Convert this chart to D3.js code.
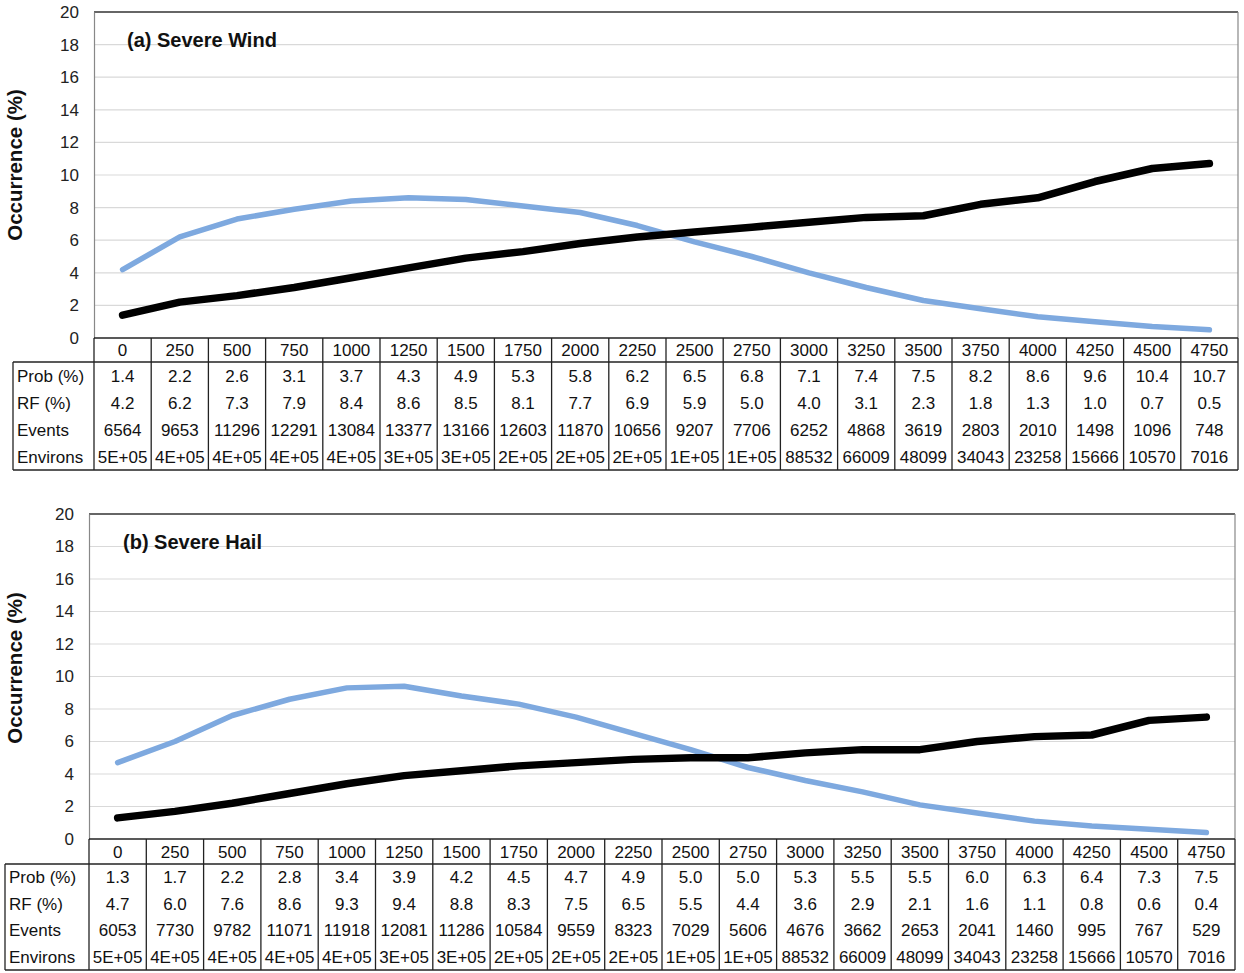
<!DOCTYPE html>
<html>
<head>
<meta charset="utf-8">
<script src="https://cdn.jsdelivr.net/npm/d3@7"></script>
<style>
  html, body { margin: 0; padding: 0; background: #fff; }
  svg { display: block; font-family: Arial, "Liberation Sans", sans-serif; }
</style>
</head>
<body>
<svg id="chart" width="1244" height="973"></svg>
<script>
// ---- Data ----
const categories = ["0","250","500","750","1000","1250","1500","1750","2000","2250","2500","2750","3000","3250","3500","3750","4000","4250","4500","4750"];
const rowLabels = ["Prob (%)", "RF (%)", "Events", "Environs"];
const yTicks = [0,2,4,6,8,10,12,14,16,18,20];

const windProb = [1.4,2.2,2.6,3.1,3.7,4.3,4.9,5.3,5.8,6.2,6.5,6.8,7.1,7.4,7.5,8.2,8.6,9.6,10.4,10.7];
const windRF = [4.2,6.2,7.3,7.9,8.4,8.6,8.5,8.1,7.7,6.9,5.9,5.0,4.0,3.1,2.3,1.8,1.3,1.0,0.7,0.5];
const windEvents = [6564,9653,11296,12291,13084,13377,13166,12603,11870,10656,9207,7706,6252,4868,3619,2803,2010,1498,1096,748];
const windEnvirons = ["5E+05","4E+05","4E+05","4E+05","4E+05","3E+05","3E+05","2E+05","2E+05","2E+05","1E+05","1E+05","88532","66009","48099","34043","23258","15666","10570","7016"];

const hailProb = [1.3,1.7,2.2,2.8,3.4,3.9,4.2,4.5,4.7,4.9,5.0,5.0,5.3,5.5,5.5,6.0,6.3,6.4,7.3,7.5];
const hailRF = [4.7,6.0,7.6,8.6,9.3,9.4,8.8,8.3,7.5,6.5,5.5,4.4,3.6,2.9,2.1,1.6,1.1,0.8,0.6,0.4];
const hailEvents = [6053,7730,9782,11071,11918,12081,11286,10584,9559,8323,7029,5606,4676,3662,2653,2041,1460,995,767,529];
const hailEnvirons = ["5E+05","4E+05","4E+05","4E+05","4E+05","3E+05","3E+05","2E+05","2E+05","2E+05","1E+05","1E+05","88532","66009","48099","34043","23258","15666","10570","7016"];

const panels = [
  { title: "(a) Severe Wind", prob: windProb, rf: windRF, events: windEvents, environs: windEnvirons,
    left: 94, right: 1238, top: 12, bottom: 338, tableLeft: 13, headerH: 24, rowH: 27,
    titleX: 127, titleY: 47, yTitleX: 22, yTitleY: 165 },
  { title: "(b) Severe Hail", prob: hailProb, rf: hailRF, events: hailEvents, environs: hailEnvirons,
    left: 89, right: 1235, top: 514, bottom: 839, tableLeft: 5, headerH: 25, rowH: 26.5,
    titleX: 123, titleY: 549, yTitleX: 22, yTitleY: 668 }
];

const svg = d3.select("#chart");
const tableStroke = "#222";
const fs = 17;

panels.forEach(p => {
  const g = svg.append("g");
  const x = d3.scaleBand().domain(categories).range([p.left, p.right]).padding(0);
  const y = d3.scaleLinear().domain([0, 20]).range([p.bottom, p.top]);
  const cx = d => x(d) + x.bandwidth() / 2;

  // gridlines
  g.append("g").selectAll("line").data(yTicks.filter(t => t > 0)).join("line")
    .attr("x1", p.left).attr("x2", p.right)
    .attr("y1", d => y(d)).attr("y2", d => y(d))
    .attr("stroke", t => t === 20 ? "#666" : "#d9d9d9")
    .attr("stroke-width", t => t === 20 ? 1.8 : 1.2);

  // y axis
  const yAxis = d3.axisLeft(y).tickValues(yTicks).tickSize(0).tickPadding(15);
  const ya = g.append("g").attr("transform", `translate(${p.left},0)`).call(yAxis);
  ya.select(".domain").attr("stroke", "#888").attr("stroke-width", 1.2);
  ya.selectAll("text").attr("font-size", fs).attr("fill", "#222")
    .attr("font-family", "Arial, 'Liberation Sans', sans-serif");

  // right border
  g.append("line").attr("x1", p.right).attr("x2", p.right).attr("y1", p.top).attr("y2", p.bottom)
    .attr("stroke", "#888").attr("stroke-width", 1.2);

  // y title
  g.append("text")
    .attr("transform", `translate(${p.yTitleX},${p.yTitleY}) rotate(-90)`)
    .attr("text-anchor", "middle").attr("font-weight", "bold").attr("font-size", 20.5)
    .attr("fill", "#111").text("Occurrence (%)");

  // panel title
  g.append("text").attr("x", p.titleX).attr("y", p.titleY)
    .attr("font-weight", "bold").attr("font-size", 20).attr("fill", "#111").text(p.title);

  // lines
  const line = vals => d3.line().x((d, i) => cx(categories[i])).y(d => y(d))(vals);
  g.append("path").attr("d", line(p.rf)).attr("fill", "none")
    .attr("stroke", "#7ea9df").attr("stroke-width", 5.5)
    .attr("stroke-linecap", "round").attr("stroke-linejoin", "round");
  g.append("path").attr("d", line(p.prob)).attr("fill", "none")
    .attr("stroke", "#000").attr("stroke-width", 7.5)
    .attr("stroke-linecap", "round").attr("stroke-linejoin", "round");

  // ---- data table ----
  const hTop = p.bottom, hBot = p.bottom + p.headerH;
  const tBot = hBot + p.rowH * rowLabels.length;
  const t = g.append("g");
  t.append("line").attr("x1", p.left).attr("x2", p.right).attr("y1", hTop).attr("y2", hTop)
    .attr("stroke", tableStroke).attr("stroke-width", 1.3);
  t.append("line").attr("x1", p.tableLeft).attr("x2", p.right).attr("y1", hBot).attr("y2", hBot)
    .attr("stroke", tableStroke).attr("stroke-width", 1.3);
  t.append("line").attr("x1", p.tableLeft).attr("x2", p.right).attr("y1", tBot).attr("y2", tBot)
    .attr("stroke", tableStroke).attr("stroke-width", 1.3);
  t.append("line").attr("x1", p.tableLeft).attr("x2", p.tableLeft).attr("y1", hBot).attr("y2", tBot)
    .attr("stroke", tableStroke).attr("stroke-width", 1.3);
  const edges = categories.map(c => x(c)).concat([p.right]);
  t.selectAll("line.v").data(edges).join("line").attr("class", "v")
    .attr("x1", d => d).attr("x2", d => d).attr("y1", hTop).attr("y2", tBot)
    .attr("stroke", tableStroke).attr("stroke-width", 1.3);

  t.selectAll("text.h").data(categories).join("text").attr("class", "h")
    .attr("x", d => cx(d)).attr("y", (hTop + hBot) / 2)
    .attr("dy", "0.36em").attr("text-anchor", "middle").attr("font-size", fs).attr("fill", "#111")
    .text(d => d);

  const rows = [
    p.prob.map(v => v.toFixed(1)),
    p.rf.map(v => v.toFixed(1)),
    p.events.map(v => String(v)),
    p.environs
  ];
  rows.forEach((vals, r) => {
    const ry = hBot + p.rowH * (r + 0.5);
    t.append("text").attr("x", p.tableLeft + 4).attr("y", ry).attr("dy", "0.36em")
      .attr("font-size", fs).attr("fill", "#111").text(rowLabels[r]);
    t.selectAll(`text.r${r}`).data(vals).join("text").attr("class", `r${r}`)
      .attr("x", (d, i) => cx(categories[i])).attr("y", ry).attr("dy", "0.36em")
      .attr("text-anchor", "middle").attr("font-size", fs).attr("fill", "#111")
      .text(d => d);
  });
});
</script>
</body>
</html>
